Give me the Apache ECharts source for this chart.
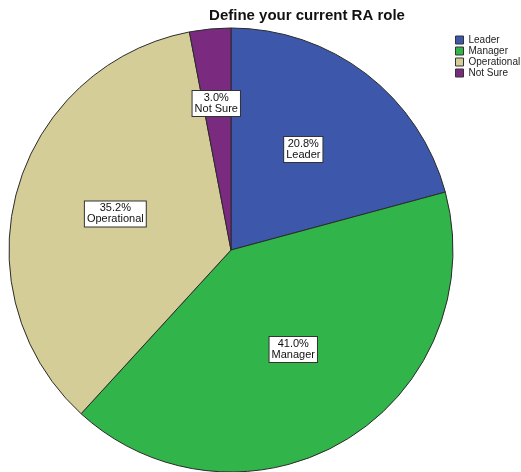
<!DOCTYPE html>
<html><head><meta charset="utf-8">
<script src="https://cdn.jsdelivr.net/npm/echarts@6/dist/echarts.min.js"></script>
<style>html,body{margin:0;padding:0;background:#fff}#c{width:521px;height:472px}</style>
</head><body><div id="c"></div>
<script>
const categories = ['Leader', 'Manager', 'Operational', 'Not Sure'];
const values = [20.8, 41.0, 35.2, 3.0];
const colors = ['#3D58AA', '#31B54A', '#D4CD98', '#7A2A7F'];

const chart = echarts.init(document.getElementById('c'));
chart.setOption({
  animation: false,
  title: {
    text: 'Define your current RA role',
    left: 302, top: 3, textAlign: 'center',
    textStyle: {fontFamily: 'Liberation Sans, Arial, sans-serif', fontSize: 15, fontWeight: 'bold', color: '#111'}
  },
  legend: {
    orient: 'vertical', left: 455, top: 35, padding: 0,
    itemWidth: 8, itemHeight: 8, itemGap: 1,
    icon: 'rect',
    itemStyle: {borderColor: '#333', borderWidth: 1},
    textStyle: {fontFamily: 'Liberation Sans, Arial, sans-serif', fontSize: 10, lineHeight: 9, color: '#222'},
    data: categories
  },
  series: [{
    type: 'pie',
    center: [231, 250],
    radius: [0, 222],
    startAngle: 90,
    clockwise: true,
    avoidLabelOverlap: false,
    itemStyle: {borderColor: '#2a2a2a', borderWidth: 1},
    label: {
      show: true, position: 'inside',
      formatter: p => p.value.toFixed(1) + '%\n' + p.name,
      fontFamily: 'Liberation Sans, Arial, sans-serif', fontSize: 11, lineHeight: 11,
      color: '#111', backgroundColor: '#fff', borderColor: '#333', borderWidth: 1,
      padding: [2, 2, 1, 2], align: 'center'
    },
    labelLayout: function (params) {
      if (params.dataIndex === 3) return {dy: -33, dx: -4};
      if (params.dataIndex === 0) return {dy: -10, dx: 3};
      if (params.dataIndex === 2) return {dy: -5, dx: -6};
      return {dx: 3, dy: 2};
    },
    labelLine: {show: false},
    emphasis: {disabled: true},
    data: categories.map((c, i) => ({name: c, value: values[i], itemStyle: {color: colors[i]}}))
  }]
});
</script></body></html>
